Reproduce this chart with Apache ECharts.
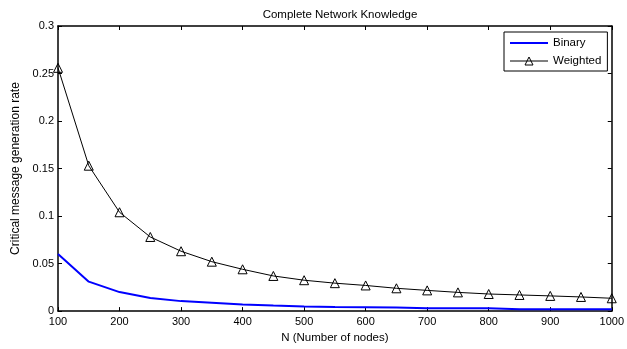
<!DOCTYPE html>
<html>
<head>
<meta charset="utf-8">
<script src="https://cdn.jsdelivr.net/npm/echarts@6/dist/echarts.min.js"></script>
<style>
  html, body { margin: 0; padding: 0; background: #fff; }
  #chart { width: 627px; height: 349px; }
</style>
</head>
<body>
<div id="chart"></div>
<script>
// Network size (number of nodes)
const nodes = [100, 150, 200, 250, 300, 350, 400, 450, 500, 550, 600, 650, 700, 750, 800, 850, 900, 950, 1000];

// Critical message generation rate per scheme
const binary = [0.060, 0.031, 0.020, 0.0138, 0.0105, 0.0088, 0.0070, 0.0058, 0.0048, 0.0042, 0.0040, 0.0038, 0.0030, 0.0030, 0.0030, 0.0020, 0.0020, 0.0020, 0.0020];
const weighted = [0.256, 0.153, 0.104, 0.078, 0.063, 0.052, 0.044, 0.037, 0.0325, 0.0294, 0.027, 0.024, 0.0218, 0.0197, 0.018, 0.017, 0.016, 0.0149, 0.0135];

const xTicks = { min: 100, max: 1000, interval: 100 };
const yTicks = { min: 0, max: 0.3, interval: 0.05 };

const FONT = 'Liberation Sans, Arial, sans-serif';
const pairs = (ys) => nodes.map((n, i) => [n, ys[i]]);

const axisLine = { show: true, onZero: false, lineStyle: { color: '#000', width: 1.5 } };
const tick = { show: true, inside: true, length: 4, lineStyle: { color: '#000', width: 1 } };
const label = { color: '#000', fontFamily: FONT, fontSize: 11 };

const chart = echarts.init(document.getElementById('chart'), null, { renderer: 'canvas' });
chart.setOption({
  animation: false,
  backgroundColor: '#fff',
  title: {
    text: 'Complete Network Knowledge',
    left: 335, top: 4, textAlign: 'center',
    textStyle: { color: '#000', fontFamily: FONT, fontSize: 11.5, fontWeight: 'normal' }
  },
  grid: { left: 58, right: 15, top: 26, bottom: 34 },
  legend: {
    orient: 'vertical',
    left: 504, top: 32,
    width: 102,
    backgroundColor: '#fff',
    borderColor: '#000', borderWidth: 1,
    padding: [5, 6, 4, 5],
    itemGap: 6,
    itemWidth: 38, itemHeight: 10,
    textStyle: { color: '#000', fontFamily: FONT, fontSize: 11.5 },
    data: [
      { name: 'Binary', itemStyle: { opacity: 0 }, lineStyle: { width: 2, color: '#0000ff' } },
      { name: 'Weighted', itemStyle: { borderWidth: 1 }, lineStyle: { width: 1, color: '#000' } }
    ]
  },
  xAxis: [{
    type: 'value', position: 'bottom', ...xTicks,
    name: 'N (Number of nodes)', nameLocation: 'middle', nameGap: 19,
    nameTextStyle: { color: '#000', fontFamily: FONT, fontSize: 11.5 },
    axisLine, axisTick: tick,
    axisLabel: { ...label, margin: 5, formatter: (v) => String(v) },
    splitLine: { show: false }
  }, {
    type: 'value', position: 'top', ...xTicks,
    axisLine, axisTick: tick,
    axisLabel: { show: false }, splitLine: { show: false }
  }],
  yAxis: [{
    type: 'value', position: 'left', ...yTicks,
    name: 'Critical message generation rate', nameLocation: 'middle', nameGap: 34,
    nameTextStyle: { color: '#000', fontFamily: FONT, fontSize: 12 },
    axisLine, axisTick: tick,
    axisLabel: { ...label, margin: 4 },
    splitLine: { show: false }
  }, {
    type: 'value', position: 'right', ...yTicks,
    axisLine, axisTick: tick,
    axisLabel: { show: false }, splitLine: { show: false }
  }],
  series: [{
    name: 'Binary', type: 'line',
    xAxisIndex: 0, yAxisIndex: 0,
    data: pairs(binary),
    showSymbol: false, symbol: 'none',
    lineStyle: { color: '#0000ff', width: 2 },
    itemStyle: { color: '#0000ff' }
  }, {
    name: 'Weighted', type: 'line',
    xAxisIndex: 0, yAxisIndex: 0,
    data: pairs(weighted),
    symbol: 'triangle', symbolSize: 9,
    lineStyle: { color: '#000', width: 1 },
    itemStyle: { color: 'rgba(255,255,255,0)', borderColor: '#000', borderWidth: 1 }
  }]
});
</script>
</body>
</html>
